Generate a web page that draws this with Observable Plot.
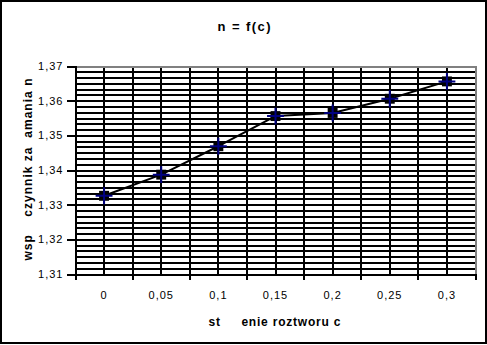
<!DOCTYPE html>
<html><head><meta charset="utf-8">
<script src="https://cdn.jsdelivr.net/npm/d3@7"></script>
<script src="https://cdn.jsdelivr.net/npm/@observablehq/plot@0.6"></script>
<style>
html,body{margin:0;padding:0;background:#fff;}
#wrap{position:relative;width:487px;height:345px;overflow:hidden;}
#border{position:absolute;left:0;top:0;width:487px;height:344px;box-sizing:border-box;border:2px solid #000;pointer-events:none;}
svg{display:block;}
</style></head><body>
<div id="wrap"><div id="chart"></div><div id="border"></div></div>
<script>
const concentration = [0, 0.05, 0.1, 0.15, 0.2, 0.25, 0.3];
const refractiveIndex = [1.3327, 1.3388, 1.3470, 1.3557, 1.3566, 1.3607, 1.3657];
const xTickLabels = ["0", "0,05", "0,1", "0,15", "0,2", "0,25", "0,3"];
const yTickValues = [1.31, 1.32, 1.33, 1.34, 1.35, 1.36, 1.37];
const yTickLabels = ["1,31", "1,32", "1,33", "1,34", "1,35", "1,36", "1,37"];
const titleText = "n = f(c)";
const xTitle = "st     enie roztworu c";
const yTitle = "wsp    czynnik za  amania n";

const data = concentration.map((c, i) => ({c, n: refractiveIndex[i]}));
const step = 0.05;
const xMin = concentration[0] - step / 2;
const xMax = concentration[concentration.length - 1] + step / 2;
const xBoundaries = d3.range(concentration.length + 1).map(i => xMin + i * step);
const xGrid = d3.range(2 * concentration.length + 1).map(i => xMin + i * step / 2);
const yMin = yTickValues[0], yMax = yTickValues[yTickValues.length - 1];
const yGrid = d3.range(37).map(k => yMin + k * (yMax - yMin) / 36);

const crisp = {strokeWidth: 2, shapeRendering: "crispEdges"};
const chart = Plot.plot({
  width: 487, height: 345,
  marginLeft: 75, marginRight: 12, marginTop: 66, marginBottom: 71,
  x: {domain: [xMin, xMax]},
  y: {domain: [yMin, yMax]},
  style: {fontFamily: "'Liberation Sans', Arial, sans-serif", color: "#000", background: "transparent", letterSpacing: "1px"},
  marks: [
    Plot.ruleY(yGrid, {stroke: "#000", ...crisp}),
    Plot.ruleX(xGrid, {stroke: "#000", ...crisp}),
    Plot.ruleY([yMax], {stroke: "#808080", ...crisp}),
    Plot.ruleX([xMax], {stroke: "#808080", ...crisp}),
    Plot.ruleX([xMin], {stroke: "#000", ...crisp}),
    Plot.ruleY([yMin], {stroke: "#000", ...crisp}),
    Plot.axisY({ticks: yTickValues, tickFormat: d => yTickLabels[yTickValues.indexOf(d)], tickSize: 8, tickPadding: 4, stroke: "#000", fill: "#000", fontSize: 11, label: null, ...crisp}),
    Plot.axisX({ticks: xBoundaries, tickSize: 6, tickFormat: () => "", stroke: "#000", label: null, ...crisp}),
    Plot.axisX({ticks: concentration, tickSize: 0, tickPadding: 17, tickFormat: d => xTickLabels[concentration.indexOf(d)], fill: "#000", fontSize: 11, label: null}),
    Plot.line(data, {x: "c", y: "n", stroke: "#000", strokeWidth: 2}),
    Plot.dot(data, {x: "c", y: "n", symbol: "square", r: 5.6, fill: "#000", stroke: "none"}),
    Plot.dot(data, {x: "c", y: "n", symbol: "plus", r: 5.5, stroke: "#000080", strokeWidth: 2}),
    Plot.text([titleText], {frameAnchor: "top", dx: -31.5, dy: -40, textAnchor: "middle", lineAnchor: "middle", fontWeight: "bold", fontSize: 13, fill: "#000"}),
    Plot.text([xTitle], {frameAnchor: "bottom-left", dx: 133, dy: 48, textAnchor: "start", lineAnchor: "middle", fontWeight: "bold", fontSize: 12, fill: "#000"}),
    Plot.text([yTitle], {frameAnchor: "left", dx: -47, dy: -1, rotate: -90, textAnchor: "middle", lineAnchor: "middle", fontWeight: "bold", fontSize: 12, fill: "#000"})
  ]
});
const fit = {[titleText]: 53, [xTitle]: 132, [yTitle]: 182};
const norm = s => s.replace(/\s+/g, " ").trim();
d3.select(chart).selectAll("text").each(function () {
  const t = norm(this.textContent);
  for (const k of Object.keys(fit)) {
    if (norm(k) === t) {
      this.textContent = k;
      this.style.whiteSpace = "pre";
      this.style.letterSpacing = "0px";
      this.setAttribute("textLength", fit[k]);
      this.setAttribute("lengthAdjust", "spacing");
    }
  }
});
document.getElementById("chart").appendChild(chart);
</script>
</body></html>
